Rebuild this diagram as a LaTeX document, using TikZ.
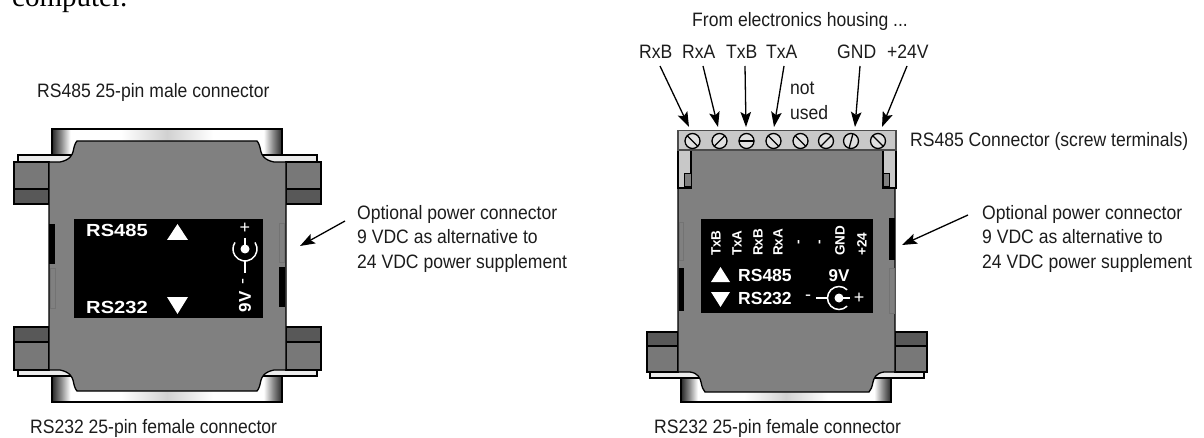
\documentclass[tikz,border=0pt]{standalone}
\usepackage{fontspec}
\setmainfont{Liberation Sans}
\newfontfamily\bodyserif{Liberation Serif}
\usetikzlibrary{arrows.meta}
\pgfdeclarehorizontalshading{chrome}{100bp}{color(0bp)=(black!85); color(25bp)=(black!85); color(27bp)=(black!45); color(29bp)=(white); color(40bp)=(white); color(50bp)=(black!18); color(60bp)=(white); color(71bp)=(white); color(73bp)=(black!45); color(75bp)=(black!85); color(100bp)=(black!85)}
\definecolor{labeltext}{HTML}{1C1C1C}
\definecolor{housing}{HTML}{808080}
\definecolor{screwface}{HTML}{787878}
\definecolor{screwdark}{HTML}{585858}
\definecolor{strip}{HTML}{C8C8C8}
\tikzset{
    caption/.style={
        anchor=base west,
        inner sep=0pt,
        text=labeltext,
        xscale=0.905,
        font=\fontsize{19.4}{24.5}\selectfont
    },
    note/.style={
        caption,
        anchor=north west,
        align=left
    },
    panel/.style={
        anchor=base west,
        inner sep=0pt,
        text=white,
        font=\fontsize{17.5}{18}\bfseries\selectfont
    },
    pinname/.style={
        rotate=90,
        anchor=west,
        inner sep=0pt,
        text=white,
        font=\fontsize{13.5}{14}\bfseries\selectfont
    },
    sign/.style={
        anchor=center,
        inner sep=0pt,
        text=white,
        font=\fontsize{18}{18}\selectfont
    },
    arrow/.style={
        -{Stealth[length=15pt,width=10.5pt,inset=3pt]},
        line width=1.3pt,
        draw=black
    },
    outline/.style={draw=black,line width=1.3pt},
    wire/.style={draw=white,line width=1.5pt},
    slot/.style={draw=black!55,fill=housing,line width=0.8pt}
}
\begin{document}
\begin{tikzpicture}[x=1pt,y=-1pt]
    \useasboundingbox (0,0) rectangle (1204,438);
    \clip (0,0) rectangle (1204,438);
    \node (pagetext) [anchor=base west,inner sep=0pt,font=\fontsize{29}{29}\bodyserif\selectfont] at (12,7) {computer.};

    % left device
    \draw [draw=black!60,line width=1.6pt,dash pattern=on 5pt off 3pt] (62,128.5) -- (270,128.5);
    \shade [shading=chrome] (52,129) rectangle (282,170);
    \draw [outline] (52,170) -- (52,129) -- (282,129) -- (282,170);
    \shade [shading=chrome] (52,360) rectangle (282,402);
    \draw [outline] (52,360) -- (52,402) -- (282,402) -- (282,360);
    \draw [outline,fill=white!92!black] (18,155) rectangle (75,165);
    \draw [outline,fill=white!92!black] (260,155) rectangle (317,165);
    \draw [outline,fill=white!92!black] (18,367) rectangle (75,376);
    \draw [outline,fill=white!92!black] (260,367) rectangle (317,376);
    \draw [outline,fill=screwface] (14,162) rectangle (49,204);
    \draw [outline,fill=screwface] (286,162) rectangle (321,204);
    \draw [outline,fill=screwface] (14,327) rectangle (49,370);
    \draw [outline,fill=screwface] (286,327) rectangle (321,370);
    \draw [outline,fill=screwdark] (14,189) rectangle (49,204);
    \draw [outline,fill=screwdark] (286,189) rectangle (321,204);
    \draw [outline,fill=screwdark] (14,327) rectangle (49,342);
    \draw [outline,fill=screwdark] (286,327) rectangle (321,342);
    \draw [outline,fill=housing] (49,162) -- (60,162) .. controls (70,160) and (72,155) .. (73,152) .. controls (74,147) and (75,143) .. (77,141)
        -- (257,141) .. controls (259,143) and (260,147) .. (261,152) .. controls (262,155) and (264,160) .. (274,162) -- (286,162)
        -- (286,370) -- (274,370) .. controls (264,372) and (262,377) .. (261,380) .. controls (260,385) and (259,389) .. (257,391)
        -- (77,391) .. controls (75,389) and (74,385) .. (73,380) .. controls (72,377) and (70,372) .. (60,370) -- (49,370) -- cycle;
    \fill [black] (49,224) rectangle (55,264);
    \fill [black] (279,267) rectangle (285,307);
    \draw [slot] (50,268) rectangle (55,308);
    \draw [slot] (279,223) rectangle (284.5,262);
    \fill [black] (74,219) rectangle (263,318);
    \node (lefthigh) [panel,xscale=1.15] at (86,237) {RS485};
    \node (leftlow) [panel,xscale=1.15] at (86,313) {RS232};
    \fill [white] (167,240) -- (188,240) -- (177.5,224) -- cycle;
    \fill [white] (167,297) -- (188,297) -- (177.5,314) -- cycle;
    \node (leftplus) [sign] at (245,228) {+};
    \node (leftminus) [sign,rotate=90] at (245,282) {-};
    \node (leftvolt) [sign,rotate=90,font=\fontsize{17}{17}\bfseries\selectfont] at (245,302) {9V};
    \fill [white] (245,249) circle (4.5pt);
    \draw [wire] (245,238) -- (245,249);
    \draw [wire] (245,261) -- (245,273);
    \draw [wire] (245,249) ++(33:12pt) arc[start angle=33,end angle=-213,radius=12pt];

    % right device
    \shade [shading=chrome] (681,365) rectangle (891,402);
    \draw [outline] (681,365) -- (681,402) -- (891,402) -- (891,365);
    \draw [outline,fill=white!92!black] (650,369) rectangle (705,378);
    \draw [outline,fill=white!92!black] (870,369) rectangle (924,378);
    \draw [outline,fill=screwface] (647,332) rectangle (678,372);
    \draw [outline,fill=screwface] (895,332) rectangle (927,372);
    \draw [outline,fill=screwdark] (647,332) rectangle (678,346);
    \draw [outline,fill=screwdark] (895,332) rectangle (927,346);
    \draw [outline,fill=housing] (678,150) -- (895,150) -- (895,372) -- (884,372) .. controls (876,373) and (874,378) .. (873,382) .. controls (872,387) and (871,390) .. (869,392)
        -- (705,392) .. controls (703,390) and (702,387) .. (701,382) .. controls (700,378) and (698,373) .. (690,372) -- (678,372) -- cycle;
    \draw [outline,fill=strip] (678,150) -- (691,150) -- (691,188) -- (678,188) -- cycle;
    \draw [outline,fill=strip] (883,150) -- (896,150) -- (896,188) -- (883,188) -- cycle;
    \draw [draw=black,fill=housing,line width=0.8pt] (684,173) rectangle (691,186);
    \draw [draw=black,fill=housing,line width=0.8pt] (883,173) rectangle (889,186);
    \draw [draw=black!70,fill=strip,line width=1.2pt] (678,130.5) rectangle (896,150);
    \foreach \sx/\sa in {692.5/-45,719.5/45,746.5/0,773.5/-45,800.5/-45,826/45,851/75,878/-45}{
        \draw [line width=1.3pt,fill=white!88!black] (\sx,141) circle (7.5pt);
        \draw [line width=1.3pt] (\sx,141) ++(\sa:7.5pt) -- ++(\sa+180:15pt);
    }
    \fill [black] (889,218) rectangle (895,260);
    \fill [black] (679,268) rectangle (684,311);
    \draw [slot] (679,222) rectangle (683,260);
    \draw [slot] (889,268) rectangle (894.5,313);
    \fill [black] (701,219) rectangle (873,313);
    \node (pintxb) [pinname] at (716,256) {TxB};
    \node (pintxa) [pinname] at (737,256) {TxA};
    \node (pinrxb) [pinname] at (758,256) {RxB};
    \node (pinrxa) [pinname] at (778,256) {RxA};
    \node (pinfree1) [sign,rotate=90,font=\fontsize{13.5}{14}\bfseries\selectfont] at (800,242) {-};
    \node (pinfree2) [sign,rotate=90,font=\fontsize{13.5}{14}\bfseries\selectfont] at (821,242) {-};
    \node (pingnd) [pinname] at (840,256) {GND};
    \node (pinvcc) [pinname] at (862,256) {+24};
    \fill [white] (711,282) -- (730,282) -- (720.5,267) -- cycle;
    \fill [white] (711,292) -- (730,292) -- (720.5,307) -- cycle;
    \node (righthigh) [panel] at (738,282) {RS485};
    \node (rightlow) [panel] at (738,304) {RS232};
    \node (rightvolt) [panel,anchor=base,font=\fontsize{17}{17}\bfseries\selectfont] at (839,282) {9V};
    \node (rightminus) [sign] at (808,298) {-};
    \node (rightplus) [sign] at (859,298) {+};
    \fill [white] (839,298) circle (4.5pt);
    \draw [wire] (816,298) -- (827.5,298);
    \draw [wire] (839,298) -- (850,298);
    \draw [wire] (839,298) ++(45:11.5pt) arc[start angle=45,end angle=315,radius=11.5pt];

    % labels
    \node (maletitle) [caption] at (37,98) {RS485 25-pin male connector};
    \node (lefttitle) [caption] at (30,433) {RS232 25-pin female connector};
    \node (righttitle) [caption] at (654,433) {RS232 25-pin female connector};
    \node (housingtitle) [caption] at (692,27) {From electronics housing ...};
    \node (screwtitle) [caption] at (910,147) {RS485 Connector (screw terminals)};
    \node (leftnote) [note] at (357,205) {Optional power connector\\9 VDC as alternative to\\24 VDC power supplement};
    \node (rightnote) [note] at (982,205) {Optional power connector\\9 VDC as alternative to\\24 VDC power supplement};
    \node (rxb) [caption] at (639,59) {RxB};
    \node (rxa) [caption] at (682,59) {RxA};
    \node (txb) [caption] at (726,59) {TxB};
    \node (txa) [caption] at (766,59) {TxA};
    \node (gnd) [caption] at (837,59) {GND};
    \node (vcc) [caption] at (887,59) {+24V};
    \node (unused) [note] at (790,82) {not\\used};

    \coordinate (rxbpin) at (689,127);
    \coordinate (rxapin) at (718,127);
    \coordinate (txbpin) at (746,127);
    \coordinate (txapin) at (774,127);
    \coordinate (gndpin) at (855,127);
    \coordinate (vccpin) at (882,127);
    \coordinate (leftfrom) at (345,221);
    \coordinate (leftjack) at (300,246);
    \coordinate (rightfrom) at (968,215);
    \coordinate (rightjack) at (902,245);
    \draw [arrow] (660,66) -- (rxbpin);
    \draw [arrow] (703,66) -- (rxapin);
    \draw [arrow] (745,66) -- (txbpin);
    \draw [arrow] (784,66) -- (txapin);
    \draw [arrow] (860,66) -- (gndpin);
    \draw [arrow] (907,66) -- (vccpin);
    \draw [arrow] (leftfrom) -- (leftjack);
    \draw [arrow] (rightfrom) -- (rightjack);
\end{tikzpicture}
\end{document}
